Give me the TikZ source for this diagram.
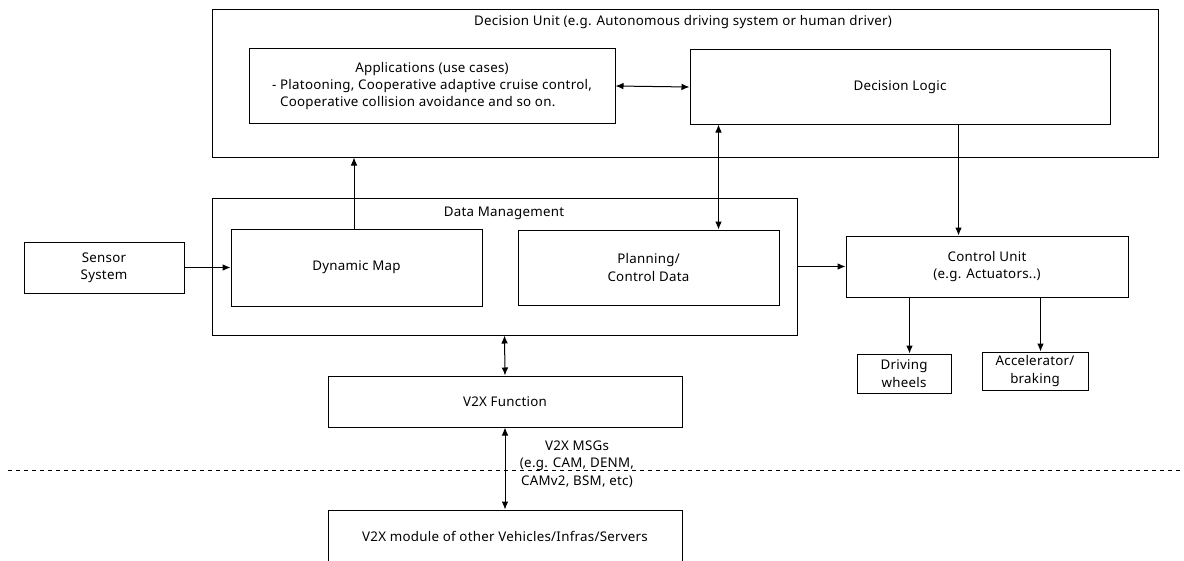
\documentclass[tikz,border=0pt]{standalone}
\usepackage{fontspec}
\setmainfont{Noto Sans}[LetterSpace=2]
\usetikzlibrary{positioning, arrows.meta, shapes}

\begin{document}
\begin{tikzpicture}[
    x=0.75pt, y=-0.75pt,
    every node/.style={font=\fontsize{10}{13}\selectfont, align=center, inner sep=0pt},
    box/.style={draw, rectangle, line width=0.75pt},
    arrow/.style={-{Latex[length=6pt, width=5pt]}, line width=0.75pt},
    biarrow/.style={{Latex[length=6pt, width=5pt]}-{Latex[length=6pt, width=5pt]}, line width=0.75pt}
]
    \useasboundingbox (0,0) rectangle (1184,560);
    \clip (0,0) rectangle (1184,560);

    % decision unit
    \node (decision) [box, minimum width=709.5pt, minimum height=110.25pt] at (685,83.5) {};
    \node (dutitle) at (683,22) {Decision Unit (e.g. Autonomous driving system or human driver)};
    \node (apps) [box, minimum width=274.5pt, minimum height=55.5pt] at (432,86) {\begin{tabular}{@{}l@{}}\multicolumn{1}{@{}c@{}}{Applications (use cases)}\\- Platooning, Cooperative adaptive cruise control,\\\phantom{- }Cooperative collision avoidance and so on.\end{tabular}};
    \node (logic) [box, minimum width=315pt, minimum height=55.5pt] at (900,87) {Decision Logic};

    % data management
    \node (datamgmt) [box, minimum width=438.75pt, minimum height=102.75pt] at (504.5,266.5) {};
    \node (dmtitle) at (504,213) {Data Management};
    \node (dynmap) [box, minimum width=188.25pt, minimum height=57.75pt] at (356.5,267.5) {Dynamic Map};
    \node (planning) [box, minimum width=195.75pt, minimum height=56.25pt] at (648.5,267.5) {Planning/\\Control Data};
    \node (sensor) [box, minimum width=120pt, minimum height=38.25pt] at (104,267.5) {Sensor\\System};

    % control
    \node (control) [box, minimum width=211.5pt, minimum height=45.75pt] at (987,266.5) {Control Unit\\(e.g. Actuators..)};
    \node (wheels) [box, minimum width=70.5pt, minimum height=29.25pt] at (904,373.5) {Driving\\wheels};
    \node (accel) [box, minimum width=79.5pt, minimum height=28.5pt] at (1035,371) {Accelerator/\\braking};

    % v2x
    \node (v2xfunc) [box, minimum width=265.5pt, minimum height=38.25pt] at (505,401.5) {V2X Function};
    \node (v2xmod) [box, minimum width=265.5pt, minimum height=39pt] at (505,536) {V2X module of other Vehicles/Infras/Servers};
    \node (msgs) at (577,464) {V2X MSGs\\(e.g. CAM, DENM,\\CAMv2, BSM, etc)};

    \draw [dashed, line width=0.5pt] (8,470) -- (1184,470);

    \draw [biarrow] (apps.east) -- (logic.west);
    \draw [arrow] (dynmap.north -| 354,0) -- (decision.south -| 354,0);
    \draw [biarrow] ([xshift=21.75pt]logic.south west) -- ([xshift=150.75pt]planning.north west);
    \draw [arrow] ([xshift=201.75pt]logic.south west) -- ([xshift=84.75pt]control.north west);
    \draw [arrow] (sensor.east) -- (dynmap.west);
    \draw [arrow] (datamgmt.east) -- (control.west);
    \draw [arrow] ([xshift=48pt]control.south west) -- ([xshift=39.75pt]wheels.north west);
    \draw [arrow] ([xshift=146.25pt]control.south west) -- ([xshift=44.25pt]accel.north west);
    \draw [biarrow] (datamgmt.south) -- (v2xfunc.north);
    \draw [biarrow] (v2xfunc.south) -- (v2xmod.north);
\end{tikzpicture}
\end{document}
